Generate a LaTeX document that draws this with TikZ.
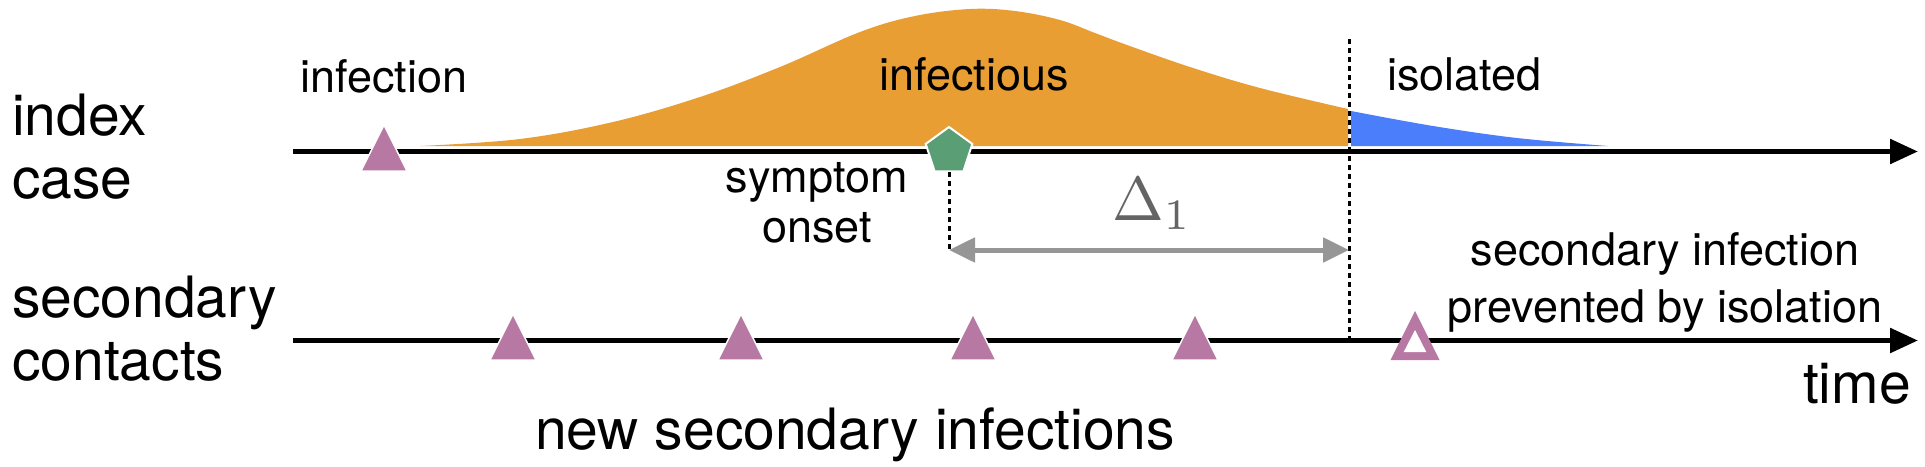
\documentclass[tikz,border=0pt]{standalone}
\usepackage{fontspec}
\setmainfont{TeX Gyre Heros}
\usetikzlibrary{arrows.meta,shapes.geometric,positioning}

\definecolor{infOrange}{RGB}{232,158,50}
\definecolor{isoBlue}{RGB}{74,126,251}
\definecolor{triPurple}{RGB}{183,121,163}
\definecolor{onsetGreen}{RGB}{90,158,118}
\definecolor{arrGray}{RGB}{150,150,150}
\definecolor{deltaGray}{RGB}{100,100,100}

\tikzset{
    timeaxis/.style={line width=5.5, -{Triangle[length=28pt,width=24pt]}},
    isoline/.style={line width=3, dash pattern=on 5pt off 4pt},
    gaparrow/.style={arrGray, line width=5, {Triangle[length=26pt,width=24pt]}-{Triangle[length=26pt,width=24pt]}},
    lbl/.style={inner sep=0, font=\fontsize{45}{50}\selectfont},
    biglbl/.style={inner sep=0, font=\fontsize{57}{63}\selectfont},
    tri/.pic={\fill[triPurple, draw=white, line width=1.5] (-23,19.5) -- (0,-26.5) -- (23,19.5) -- cycle;},
    hollowtri/.pic={\fill[triPurple] (-24.5,19.5) -- (0,-29.5) -- (24.5,19.5) -- cycle;
        \fill[white] (-11.3,11.5) -- (0,-10.5) -- (11.3,11.5) -- cycle;}
}

\begin{document}
\begin{tikzpicture}[x=1pt, y=-1pt]
    \useasboundingbox (0,0) rectangle (1925,466);

    % infectiousness profile
    \fill[infOrange] plot[smooth, tension=0.6] coordinates {(420,146) (520,139) (613,122) (700,97) (780,67) (860,32) (915,16) (970,9) (1015,11) (1060,20) (1095,33) (1127,45) (1190,67) (1260,88) (1348,109)} -- (1348,146) -- cycle;
    \fill[isoBlue] plot[smooth, tension=0.6] coordinates {(1351,111) (1433,126) (1517,138) (1608,146)} -- (1351,146) -- cycle;

    % time lines
    \coordinate (idxStart) at (293,151.5);
    \coordinate (idxEnd) at (1918,151.5);
    \coordinate (secStart) at (293,340.5);
    \coordinate (secEnd) at (1918,340.5);
    \draw[timeaxis] (idxStart) -- (idxEnd);
    \draw[timeaxis] (secStart) -- (secEnd);

    % isolation and onset
    \node[regular polygon, regular polygon sides=5, minimum size=49, inner sep=0, fill=onsetGreen, draw=white, line width=2] (onset) at (949,151.5) {};
    \coordinate (isoTop) at (1349,39);
    \coordinate (isoBot) at (1349,343);
    \coordinate (isoMid) at (1349,250);
    \coordinate (d1) at (onset.south |- isoMid);
    \draw[isoline] (isoTop) -- (isoBot);
    \draw[isoline] (onset.south) -- (d1);
    \draw[gaparrow] (d1) -- (isoMid);
    \node[anchor=base, text=deltaGray, inner sep=0, font=\fontsize{10}{12}\selectfont] (delta) at (1152,220) {\scalebox{6.2}{$\Delta_1$}};

    % infections
    \pic at (384,151.5) {tri};
    \foreach \x in {513,741,973,1195}
        \pic at (\x,340.5) {tri};
    \pic at (1415,340.5) {hollowtri};

    % labels (base = last line)
    \node[biglbl, anchor=base west, align=left] (idx) at (12,198) {index\\case};
    \node[biglbl, anchor=base west, align=left] (sec) at (12,380) {secondary\\contacts};
    \node[lbl, anchor=base west] (inf) at (300,92) {infection};
    \node[lbl, anchor=base] (infs) at (974,90) {infectious};
    \node[lbl, anchor=base west] (iso) at (1387,90) {isolated};
    \node[lbl, anchor=base, align=center] (sym) at (817,242) {symptom\\onset};
    \node[lbl, anchor=base, align=center, font=\fontsize{45}{57}\selectfont] (prev) at (1665,322) {secondary infection\\prevented by isolation};
    \node[biglbl, anchor=base east] (time) at (1911,403) {time};
    \node[biglbl, anchor=base] (newsec) at (855,449) {new secondary infections};
\end{tikzpicture}
\end{document}
